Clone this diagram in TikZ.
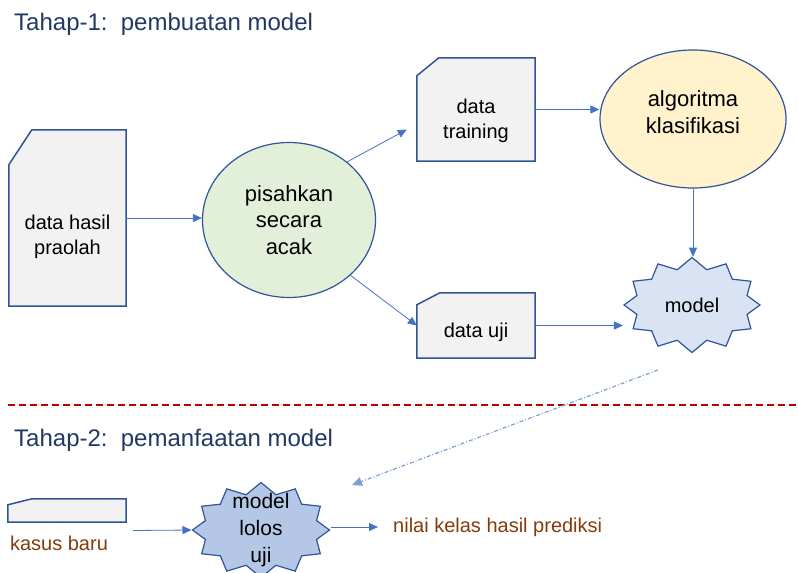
\documentclass[tikz,border=0pt]{standalone}
\usepackage{fontspec}
\setmainfont{Liberation Sans}
\usetikzlibrary{arrows.meta,shapes.geometric,shapes.symbols}

\definecolor{lineblue}{HTML}{2F5597}
\definecolor{arrowblue}{HTML}{4472C4}
\definecolor{dotblue}{HTML}{7F9FD9}
\definecolor{docgray}{HTML}{F2F2F2}
\definecolor{splitgreen}{HTML}{E2F0D9}
\definecolor{algoyellow}{HTML}{FFF2CC}
\definecolor{modelblue}{HTML}{DAE3F3}
\definecolor{passblue}{HTML}{B4C7E7}
\definecolor{navy}{HTML}{203864}
\definecolor{rust}{HTML}{843C0C}
\definecolor{sepred}{HTML}{C00000}

\begin{document}
\begin{tikzpicture}[
  x=1pt, y=-1pt,
  every node/.style={inner sep=0pt},
  doc/.style={rectangle, draw=none},
  docline/.style={draw=lineblue, line width=1.5pt, fill=docgray},
  oval/.style={ellipse, draw=lineblue, line width=1.2pt},
  burst/.style={starburst, starburst points=12, starburst point height=11pt,
    random starburst=0, draw=lineblue, line width=1.2pt},
  txt/.style={font=\fontsize{20}{25}\selectfont, align=center},
  bigtxt/.style={font=\fontsize{22}{26.5}\selectfont, align=center},
  title/.style={font=\fontsize{24}{28}\selectfont, text=navy, anchor=base west},
  note/.style={font=\fontsize{20}{24}\selectfont, text=rust},
  arrow/.style={draw=arrowblue, line width=0.8pt, -{Triangle[length=9pt,width=8pt]}},
  darrow/.style={draw=dotblue, line width=1.2pt, dash pattern=on 4pt off 2pt on 1pt off 2pt,
    -{Triangle[length=10pt,width=9pt]}},
  divider/.style={draw=sepred, line width=1.6pt, dash pattern=on 7pt off 4pt}]

  \useasboundingbox (0,0) rectangle (798,573);

  % ---- headings -----------------------------------------------------------
  \node[title] (tahap1) at (14,30) {Tahap-1:\ \ pembuatan model};
  \node[title] (tahap2) at (14,446) {Tahap-2:\ \ pemanfaatan model};
  \draw[divider] (8,405) -- (798,405);

  % ---- stage 1 ------------------------------------------------------------
  \node[doc, minimum width=117pt, minimum height=176pt] (hasil) at (67.5,218) {};
  \draw[docline] (hasil.south west) -- (hasil.south east) -- (hasil.north east)
    -- ([xshift=23pt]hasil.north west) -- ([yshift=-35pt]hasil.north west) -- cycle;
  \node[txt] (hasiltxt) at ([yshift=-19pt]hasil.center) {data hasil\\praolah};

  \node[oval, fill=splitgreen, minimum width=173pt, minimum height=155pt, bigtxt]
    (pisah) at (289,220) {pisahkan\\secara\\acak};

  \node[doc, minimum width=118pt, minimum height=103pt] (train) at (476,109.5) {};
  \draw[docline] (train.south west) -- (train.south east) -- (train.north east)
    -- ([xshift=22pt]train.north west) -- ([yshift=-18pt]train.north west) -- cycle;
  \node[txt] (traintxt) at ([yshift=-11pt]train.center) {data\\training};

  \node[doc, minimum width=118pt, minimum height=65pt] (uji) at (476,325.5) {};
  \draw[docline] (uji.south west) -- (uji.south east) -- (uji.north east)
    -- ([xshift=23pt]uji.north west) -- ([yshift=-12pt]uji.north west) -- cycle;
  \node[txt] (ujitxt) at ([yshift=-7pt]uji.center) {data uji};

  \node[oval, fill=algoyellow, minimum width=186pt, minimum height=138pt] (algo) at (693,119) {};
  \node[bigtxt] (algotxt) at ([yshift=7pt]algo.center) {algoritma\\klasifikasi};

  \node[burst, fill=modelblue, minimum width=136pt, minimum height=95pt, txt]
    (model) at (692,305) {model};

  % ---- stage 1 arrows -----------------------------------------------------
  \draw[arrow] (hasil.east) -- (hasil.east -| pisah.west);
  \draw[arrow] (pisah.45) -- ([xshift=-10pt,yshift=-20pt]train.west);
  \draw[arrow] (pisah.-42) -- (uji.west);
  \draw[arrow] (train.east) -- (train.east -| algo.west);
  \draw[arrow] (algo.south) -- (algo.south |- model.north);
  \draw[arrow] (uji.east) -- (uji.east -| model.west);

  % ---- stage 2 ------------------------------------------------------------
  \node[doc, minimum width=118pt, minimum height=23pt] (kasus) at (67,510.5) {};
  \draw[docline] (kasus.south west) -- (kasus.south east) -- (kasus.north east)
    -- ([xshift=24pt]kasus.north west) -- ([yshift=-6pt]kasus.north west) -- cycle;
  \node[note] (kasustxt) at (59,543) {kasus baru};

  \node[burst, fill=passblue, minimum width=137pt, minimum height=95pt] (lolos) at (261,530) {};
  \node[font=\fontsize{21}{27}\selectfont, align=center] (lolostxt) at (lolos.center) {model\\lolos\\uji};

  \node[note, anchor=west] (nilai) at (393,527) {nilai kelas hasil prediksi};

  \coordinate (reuse) at (658,370);
  \coordinate (reuseend) at (352,485);

  % ---- stage 2 arrows -----------------------------------------------------
  \draw[arrow] ([xshift=7pt,yshift=-20pt]kasus.east) -- (lolos.west);
  \draw[arrow] (lolos.east |- nilai.west) -- ([xshift=-15pt]nilai.west);
  \draw[darrow] (reuse) -- (reuseend);
\end{tikzpicture}
\end{document}
